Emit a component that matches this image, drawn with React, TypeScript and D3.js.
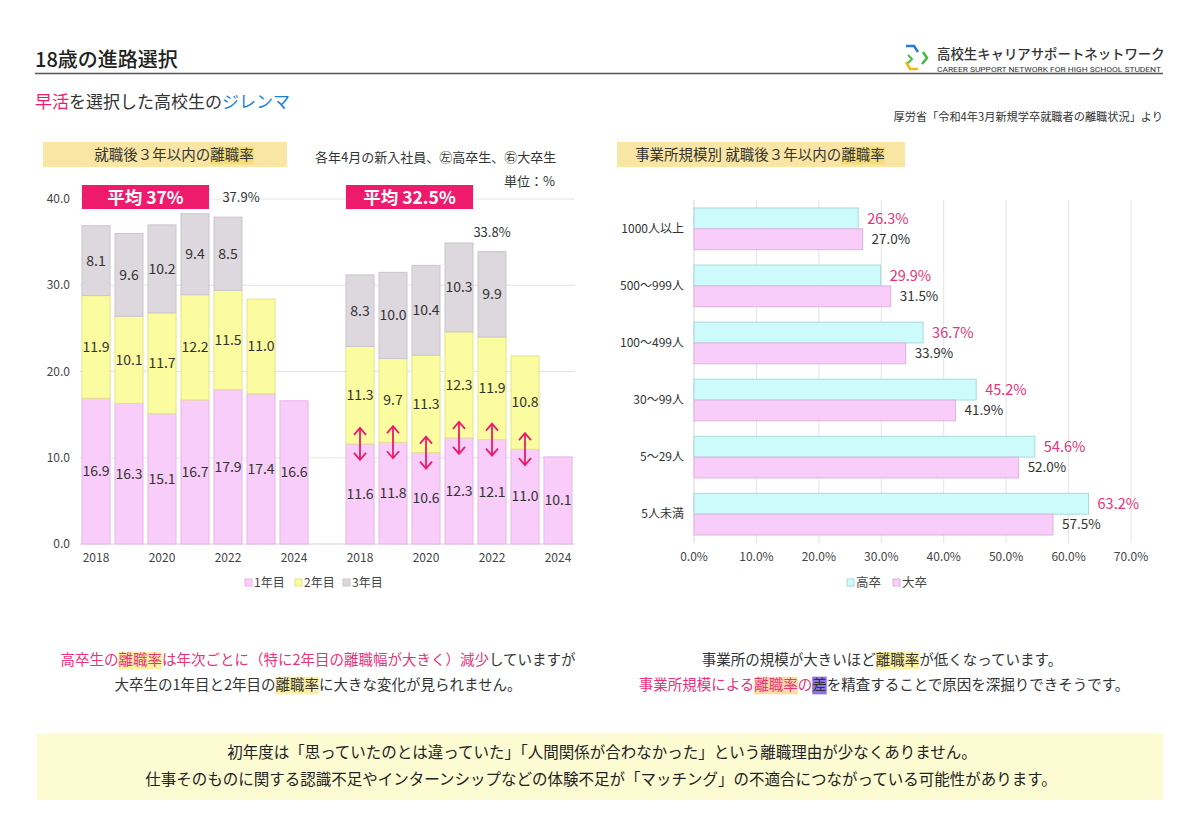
import React, { useEffect, useRef } from "react";
import * as d3 from "d3";

const FONT = '"Noto Sans CJK JP", "Noto Sans", sans-serif';

// 就職後3年以内の離職率（年度別、1年目/2年目/3年目）
const years = ["2018", "2019", "2020", "2021", "2022", "2023", "2024"];
const hsYear1 = [16.9, 16.3, 15.1, 16.7, 17.9, 17.4, 16.6];
const hsYear2 = [11.9, 10.1, 11.7, 12.2, 11.5, 11.0, null];
const hsYear3 = [8.1, 9.6, 10.2, 9.4, 8.5, null, null];
const univYear1 = [11.6, 11.8, 10.6, 12.3, 12.1, 11.0, 10.1];
const univYear2 = [11.3, 9.7, 11.3, 12.3, 11.9, 10.8, null];
const univYear3 = [8.3, 10.0, 10.4, 10.3, 9.9, null, null];
const stackNames = ["1年目", "2年目", "3年目"];
const yTicksLeft = [0, 10, 20, 30, 40];
const averageLabels = ["平均 37%", "平均 32.5%"];
// published 3-year totals for the 2022 cohort (高卒, 大卒)
const totalYear = "2022";
const publishedTotals = [37.9, 33.8];

// 事業所規模別
const sizeCats = ["1000人以上", "500〜999人", "100〜499人", "30〜99人", "5〜29人", "5人未満"];
const hsBySize = [26.3, 29.9, 36.7, 45.2, 54.6, 63.2];
const univBySize = [27.0, 31.5, 33.9, 41.9, 52.0, 57.5];
const xTicksRight = [0, 10, 20, 30, 40, 50, 60, 70];
const sizeSeries = ["高卒", "大卒"];

const STACK_FILL = ["#f9cdf9", "#fbfb9f", "#dcd8dd"];
const STACK_STROKE = ["#e6b6e6", "#e4e48a", "#cbc6cc"];
const PINK = "#ee1a6c";
const TEXT = "#333";

type Seg = { t: string; color?: string; bg?: string };

// text made of coloured runs; runs with bg get a marker rectangle behind them
function richText(
  parent: d3.Selection<SVGGElement, unknown, null, undefined>,
  x: number,
  y: number,
  anchor: string,
  size: number,
  segs: Seg[]
) {
  const text = parent
    .append("text")
    .attr("x", x)
    .attr("y", y)
    .attr("text-anchor", anchor)
    .attr("font-size", size)
    .attr("fill", TEXT);
  segs.forEach((s) => {
    const ts = text.append("tspan").text(s.t);
    if (s.color) ts.attr("fill", s.color);
  });
  text.selectAll<SVGTSpanElement, unknown>("tspan").each(function (_, i) {
    const s = segs[i];
    if (!s.bg) return;
    const start = this.getStartPositionOfChar(0);
    const w = this.getComputedTextLength();
    parent
      .insert("rect", () => text.node() as any)
      .attr("x", start.x)
      .attr("y", y - size * 0.92)
      .attr("width", w)
      .attr("height", size * 1.22)
      .attr("fill", s.bg);
  });
  return text;
}

export default function App() {
  const ref = useRef<SVGSVGElement>(null);

  useEffect(() => {
    const svg = d3.select(ref.current);
    svg.selectAll("*").remove();
    const root = svg.append("g").attr("font-family", FONT);

    // ---------- header ----------
    root
      .append("text")
      .attr("x", 35)
      .attr("y", 67)
      .attr("font-size", 20)
      .attr("font-weight", 500)
      .attr("fill", "#222")
      .text("18歳の進路選択");
    root
      .append("line")
      .attr("x1", 35)
      .attr("x2", 1163)
      .attr("y1", 73.5)
      .attr("y2", 73.5)
      .attr("stroke", "#555")
      .attr("stroke-width", 1.5);
    const sub = root.append("text").attr("x", 35).attr("y", 108).attr("font-size", 17).attr("fill", "#333");
    sub.append("tspan").attr("fill", PINK).text("早活");
    sub.append("tspan").text("を選択した高校生の");
    sub.append("tspan").attr("fill", "#1a80d2").text("ジレンマ");

    // logo
    const logo = root.append("g");
    logo.append("path").attr("d", "M906,46 L914,46 L918,52").attr("stroke", "#2b78d4").attr("stroke-width", 2.6).attr("fill", "none");
    logo.append("path").attr("d", "M923,52 L927,58 L922,64").attr("stroke", "#4cb848").attr("stroke-width", 2.6).attr("fill", "none");
    logo.append("path").attr("d", "M918,69 L910,69 L906,62").attr("stroke", "#f3b814").attr("stroke-width", 2.6).attr("fill", "none");
    logo.append("path").attr("d", "M908,55 L912,59 L908,63").attr("stroke", "#4cb848").attr("stroke-width", 2).attr("fill", "none");
    logo
      .append("text")
      .attr("x", 937)
      .attr("y", 59)
      .attr("font-size", 13.4)
      .attr("font-weight", 500)
      .attr("fill", "#333")
      .text("高校生キャリアサポートネットワーク");
    logo
      .append("text")
      .attr("x", 937)
      .attr("y", 72)
      .attr("font-size", 8)
      .attr("font-family", "Roboto, sans-serif")
      .attr("textLength", 224)
      .attr("lengthAdjust", "spacingAndGlyphs")
      .attr("fill", "#333")
      .text("CAREER SUPPORT NETWORK FOR HIGH SCHOOL STUDENT");
    root
      .append("text")
      .attr("x", 1163)
      .attr("y", 121)
      .attr("text-anchor", "end")
      .attr("font-size", 11.2)
      .attr("fill", "#333")
      .text("厚労省「令和4年3月新規学卒就職者の離職状況」より");

    // ---------- section titles ----------
    const titleBox = (x: number, w: number, cx: number, segs: Seg[]) => {
      const g = root.append("g");
      g.append("rect").attr("x", x).attr("y", 142).attr("width", w).attr("height", 25).attr("fill", "#fae6a4");
      richText(g, cx, 160, "middle", 14.5, segs);
    };
    titleBox(43, 244, 174, [{ t: "就職後３年以内の" }, { t: "離職率", bg: "#f5de7a" }]);
    titleBox(617, 288, 760, [{ t: "事業所規模別 就職後３年以内の" }, { t: "離職率", bg: "#f5de7a" }]);

    root.append("text").attr("x", 315).attr("y", 162).attr("font-size", 13).attr("fill", TEXT).text("各年4月の新入社員、㊧高卒生、㊨大卒生");
    root.append("text").attr("x", 555).attr("y", 186).attr("text-anchor", "end").attr("font-size", 13).attr("fill", TEXT).text("単位：%");

    // ---------- left: stacked bars ----------
    const groups = [
      { id: "hs", v: [hsYear1, hsYear2, hsYear3] },
      { id: "univ", v: [univYear1, univYear2, univYear3] },
    ];
    const keys = [...years.map((y) => `hs${y}`), "gap", ...years.map((y) => `univ${y}`)];
    const xL = d3.scaleBand().domain(keys).range([79.5, 574.5]).paddingInner(0.15).paddingOuter(0.075);
    const yL = d3.scaleLinear().domain([0, 40]).range([544, 199]);
    const bw = xL.bandwidth();
    const left = root.append("g");

    yTicksLeft.forEach((t) => {
      left
        .append("line")
        .attr("x1", 80)
        .attr("x2", 575)
        .attr("y1", yL(t))
        .attr("y2", yL(t))
        .attr("stroke", t === 0 ? "#d4d4d4" : "#e4e4e4");
      left
        .append("text")
        .attr("x", 70)
        .attr("y", yL(t))
        .attr("dy", "0.35em")
        .attr("text-anchor", "end")
        .attr("font-size", 12)
        .attr("fill", "#444")
        .text(t.toFixed(1));
    });

    groups.forEach((grp, gi) => {
      years.forEach((yr, i) => {
        const key = `${grp.id}${yr}`;
        const x0 = xL(key)!;
        let acc = 0;
        grp.v.forEach((series, li) => {
          const val = series[i];
          if (val == null) return;
          const lo = acc;
          acc += val;
          left
            .append("rect")
            .attr("x", x0)
            .attr("y", yL(acc))
            .attr("width", bw)
            .attr("height", yL(lo) - yL(acc))
            .attr("fill", STACK_FILL[li])
            .attr("stroke", STACK_STROKE[li])
            .attr("stroke-width", 1);
          left
            .append("text")
            .attr("x", x0 + bw / 2)
            .attr("y", yL(lo + val / 2))
            .attr("dy", "0.35em")
            .attr("text-anchor", "middle")
            .attr("font-size", 14)
            .attr("fill", TEXT)
            .text(val.toFixed(1));
        });

        // published total above the 2022 bar
        if (yr === totalYear) {
          left
            .append("text")
            .attr("x", x0 + bw / 2 + (gi === 0 ? 13 : 0))
            .attr("y", yL(acc) - 15)
            .attr("text-anchor", "middle")
            .attr("font-size", 13)
            .attr("fill", TEXT)
            .text(`${publishedTotals[gi].toFixed(1)}%`);
        }

        // 1年目/2年目 boundary marker for 大卒
        if (grp.id === "univ" && grp.v[1][i] != null) {
          const cx = x0 + bw / 2;
          const cy = yL(grp.v[0][i]!);
          const h = 16;
          left
            .append("path")
            .attr(
              "d",
              `M${cx},${cy - h} L${cx},${cy + h} M${cx - 6},${cy - h + 7} L${cx},${cy - h} L${cx + 6},${cy - h + 7} M${cx - 6},${cy + h - 7} L${cx},${cy + h} L${cx + 6},${cy + h - 7}`
            )
            .attr("fill", "none")
            .attr("stroke", PINK)
            .attr("stroke-width", 1.8);
        }

        if (i % 2 === 0) {
          left
            .append("text")
            .attr("x", x0 + bw / 2)
            .attr("y", 562)
            .attr("text-anchor", "middle")
            .attr("font-size", 12)
            .attr("fill", "#444")
            .text(yr);
        }
      });

      // average banner spanning the first four bars
      const bx0 = xL(`${grp.id}${years[0]}`)!;
      const bx1 = xL(`${grp.id}${years[3]}`)! + bw;
      left
        .append("rect")
        .attr("x", bx0)
        .attr("y", yL(40) - 14)
        .attr("width", bx1 - bx0)
        .attr("height", 24)
        .attr("fill", PINK);
      left
        .append("text")
        .attr("x", (bx0 + bx1) / 2)
        .attr("y", yL(40) + 4.5)
        .attr("text-anchor", "middle")
        .attr("font-size", 17.5)
        .attr("font-weight", 700)
        .attr("fill", "#fff")
        .text(averageLabels[gi]);
    });

    // legend
    const legendX = [245, 295, 343];
    stackNames.forEach((n, i) => {
      left.append("rect").attr("x", legendX[i]).attr("y", 579).attr("width", 7).attr("height", 7).attr("fill", STACK_FILL[i]).attr("stroke", STACK_STROKE[i]);
      left.append("text").attr("x", legendX[i] + 9).attr("y", 587).attr("font-size", 12).attr("fill", "#444").text(n);
    });

    // ---------- right: horizontal grouped bars ----------
    const xR = d3.scaleLinear().domain([0, 70]).range([694, 1131]);
    const yR = d3.scaleBand().domain(sizeCats).range([200, 543]).paddingInner(0.27).paddingOuter(0.14);
    const yS = d3.scaleBand().domain(sizeSeries).range([0, yR.bandwidth()]);
    const right = root.append("g");
    const sizeData = [hsBySize, univBySize];
    const sizeFill = ["#cdfbfb", "#f9cdf9"];
    const sizeStroke = ["#a9d9dc", "#dcb4dc"];

    xTicksRight.forEach((t) => {
      right
        .append("line")
        .attr("x1", xR(t))
        .attr("x2", xR(t))
        .attr("y1", 200)
        .attr("y2", 543)
        .attr("stroke", t === 0 ? "#d4d4d4" : "#e4e4e4");
      right
        .append("text")
        .attr("x", xR(t))
        .attr("y", 561)
        .attr("text-anchor", "middle")
        .attr("font-size", 12)
        .attr("fill", "#444")
        .text(`${t.toFixed(1)}%`);
    });

    sizeCats.forEach((c, ci) => {
      const by = yR(c)!;
      right
        .append("text")
        .attr("x", 684)
        .attr("y", by + yR.bandwidth() / 2)
        .attr("dy", "0.35em")
        .attr("text-anchor", "end")
        .attr("font-size", 12)
        .attr("fill", TEXT)
        .text(c);
      sizeSeries.forEach((s, si) => {
        const v = sizeData[si][ci];
        const y0 = by + yS(s)!;
        right
          .append("rect")
          .attr("x", xR(0))
          .attr("y", y0)
          .attr("width", xR(v) - xR(0))
          .attr("height", yS.bandwidth())
          .attr("fill", sizeFill[si])
          .attr("stroke", sizeStroke[si]);
        right
          .append("text")
          .attr("x", xR(v) + 9)
          .attr("y", y0 + yS.bandwidth() / 2)
          .attr("dy", "0.36em")
          .attr("font-size", si === 0 ? 14.5 : 13.5)
          .attr("fill", si === 0 ? "#e5337b" : TEXT)
          .text(`${v.toFixed(1)}%`);
      });
    });

    const legendXR = [847, 893];
    sizeSeries.forEach((s, i) => {
      right.append("rect").attr("x", legendXR[i]).attr("y", 579).attr("width", 7).attr("height", 7).attr("fill", sizeFill[i]).attr("stroke", sizeStroke[i]);
      right.append("text").attr("x", legendXR[i] + 9).attr("y", 587).attr("font-size", 12.5).attr("fill", "#444").text(s);
    });

    // ---------- comments ----------
    const note = root.append("g");
    const MARK = "#fdf1a2";
    richText(note, 318, 665, "middle", 14.5, [
      { t: "高卒生の", color: "#e8327c" },
      { t: "離職率", color: "#e8327c", bg: MARK },
      { t: "は年次ごとに（特に2年目の離職幅が大きく）減少", color: "#e8327c" },
      { t: "していますが" },
    ]);
    richText(note, 318, 690, "middle", 14.5, [
      { t: "大卒生の1年目と2年目の" },
      { t: "離職率", bg: MARK },
      { t: "に大きな変化が見られません。" },
    ]);
    richText(note, 882, 665, "middle", 14.5, [
      { t: "事業所の規模が大きいほど" },
      { t: "離職率", bg: MARK },
      { t: "が低くなっています。" },
    ]);
    richText(note, 884, 690, "middle", 14.5, [
      { t: "事業所規模による", color: "#e8327c" },
      { t: "離職率", color: "#e8327c", bg: "#fcdca6" },
      { t: "の", color: "#e8327c" },
      { t: "差", bg: "#8d70ee" },
      { t: "を精査することで原因を深掘りできそうです。" },
    ]);

    const box = root.append("g");
    box.append("rect").attr("x", 37).attr("y", 733).attr("width", 1126).attr("height", 67).attr("fill", "#fdfbd2");
    box
      .append("text")
      .attr("x", 602)
      .attr("y", 757.5)
      .attr("text-anchor", "middle")
      .attr("font-size", 15.5)
      .attr("fill", "#222")
      .text("初年度は「思っていたのとは違っていた」「人間関係が合わなかった」という離職理由が少なくありません。");
    box
      .append("text")
      .attr("x", 601)
      .attr("y", 784.5)
      .attr("text-anchor", "middle")
      .attr("font-size", 15.5)
      .attr("fill", "#222")
      .text("仕事そのものに関する認識不足やインターンシップなどの体験不足が「マッチング」の不適合につながっている可能性があります。");
  }, []);

  return (
    <svg
      ref={ref}
      width={1200}
      height={840}
      style={{ position: "absolute", left: 0, top: 0, background: "#fff" }}
    ></svg>
  );
}
